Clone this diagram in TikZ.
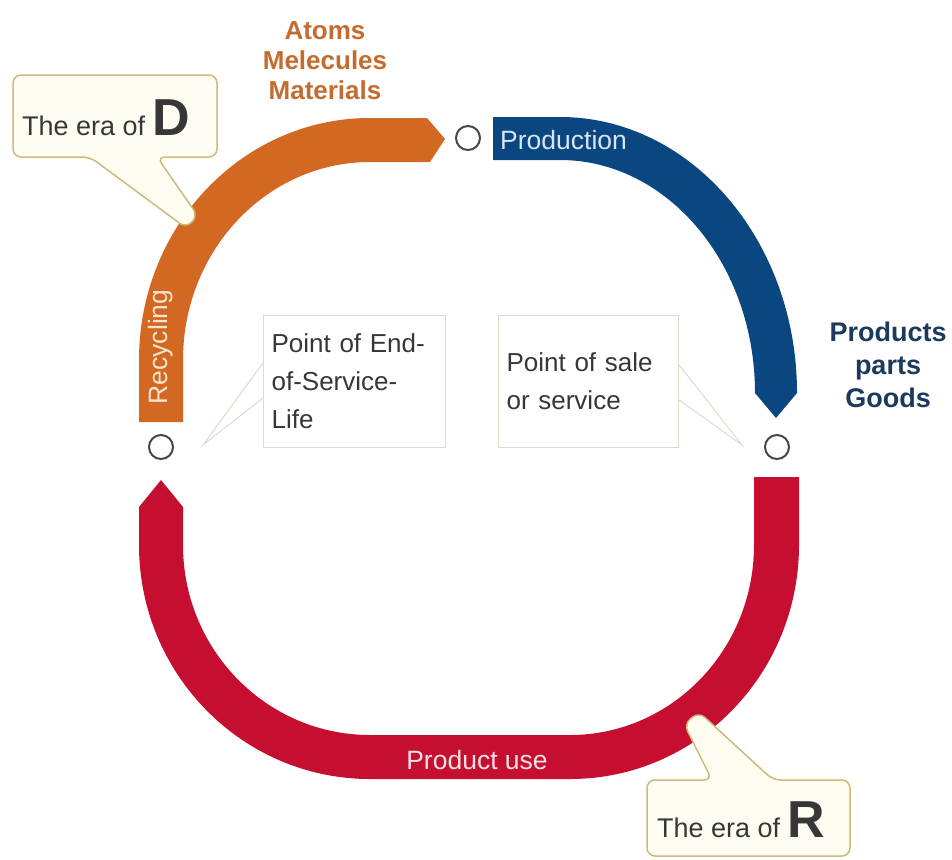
\documentclass[tikz,border=0pt]{standalone}
\usepackage{fontspec}
\setmainfont{Liberation Sans}
\usepackage{tikz}

\definecolor{bandorange}{RGB}{211,104,34}
\definecolor{bandblue}{RGB}{10,70,128}
\definecolor{bandred}{RGB}{198,14,48}
\definecolor{textorange}{RGB}{196,108,48}
\definecolor{textblue}{RGB}{28,58,92}
\definecolor{calloutline}{RGB}{204,186,122}
\definecolor{calloutfill}{RGB}{255,253,242}
\definecolor{boxline}{RGB}{222,218,204}
\definecolor{inktext}{RGB}{55,55,55}

\tikzset{
    hole/.style={circle, draw=black!72, line width=2pt, fill=white, minimum size=24pt, inner sep=0pt},
    infobox/.style={draw=boxline, line width=1.2pt, fill=white, minimum height=132pt, inner xsep=8pt,
        align=left, text=inktext, font=\fontsize{26}{38}\selectfont},
    pointer/.style={draw=boxline, line width=1pt},
    callout/.style={draw=calloutline, fill=calloutfill, line width=1.5pt, rounded corners=8pt},
    eratext/.style={inner sep=0pt, text=inktext, font=\fontsize{27}{27}\selectfont},
    bandlabel/.style={inner sep=0pt, font=\fontsize{26.5}{27}\selectfont},
    grouplabel/.style={align=center, inner sep=0pt}
}

% "The era of" with the big letter
\newcommand{\eraof}[1]{The era of {\fontsize{52}{52}\selectfont\bfseries #1}}

\begin{document}
\begin{tikzpicture}[x=1pt, y=-1pt]
        \useasboundingbox (0,0) rectangle (952,859);

        % Recycling band (orange), arrow pointing right
        \fill[bandorange] (139,422) -- (139,360)
            arc[start angle=180, end angle=270, x radius=231, y radius=242]
            -- (427,118) -- (445,139) -- (430,162) -- (370,162)
            arc[start angle=270, end angle=180, x radius=187, y radius=198]
            -- (183,422) -- cycle;

        % Production band (blue), arrow pointing down
        \fill[bandblue] (493,117) -- (560,117)
            arc[start angle=270, end angle=360, x radius=237, y radius=276]
            -- (776,418) -- (755,393)
            arc[start angle=0, end angle=-90, x radius=195, y radius=233]
            -- (493,160) -- cycle;

        % Product use band (red), arrow pointing up
        \fill[bandred] (799,477) -- (799,545)
            arc[start angle=0, end angle=90, x radius=229, y radius=234]
            -- (370,779)
            arc[start angle=90, end angle=180, x radius=231, y radius=234]
            -- (139,507) -- (161,480) -- (183,507) -- (183,545)
            arc[start angle=180, end angle=90, x radius=187, y radius=190]
            -- (570,735)
            arc[start angle=90, end angle=0, x radius=184, y radius=190]
            -- (754,477) -- cycle;

        % Band labels
        \node[bandlabel, anchor=west, text={rgb,255:red,215;green,230;blue,245}] (prodlbl) at (500,140) {Production};
        \node[bandlabel, rotate=90, text={rgb,255:red,250;green,228;blue,205}] (recylbl) at (161,347) {Recycling};
        \node[bandlabel, text={rgb,255:red,250;green,225;blue,228}] (uselbl) at (477,760) {Product use};

        % Transition points
        \node[hole] (pStart) at (468,138) {};
        \node[hole] (pSale) at (777,447) {};
        \node[hole] (pEnd) at (161,447) {};

        % What flows in and out
        \node[grouplabel, text=textorange, font=\bfseries\fontsize{26}{30}\selectfont] (matter) at (325,61) {Atoms\\Melecules\\Materials};
        \node[grouplabel, text=textblue, font=\bfseries\fontsize{27}{33}\selectfont] (goods) at (888,365) {Products\\parts\\Goods};

        % Point boxes with their thin pointers
        \coordinate (eolTip) at (203,445);
        \coordinate (saleTip) at (742,445);
        \node[infobox, anchor=north west, text width=166pt] (eol) at (263,315) {Point of End-\\of-Service-\\Life};
        \node[infobox, anchor=north west, text width=164pt] (sale) at (498,315) {Point of sale\\or service};
        \draw[pointer] ([yshift=-48pt]eol.north west) -- (eolTip) -- ([yshift=-83pt]eol.north west);
        \draw[pointer] ([yshift=-50pt]sale.north east) -- (saleTip) -- ([yshift=-85pt]sale.north east);

        % The era of D
        \draw[callout] (13,75) -- (217,75) -- (217,157) -- (157,157) -- (198,216)
            -- (186,228) -- (90,157) -- (13,157) -- cycle;
        \node[eratext, anchor=base west] (eraD) at (22,135) {\eraof{D}};

        % The era of R
        \draw[callout] (647,780) -- (712,780) -- (684,724) -- (699,712) -- (773,780)
            -- (850,780) -- (850,856) -- (647,856) -- cycle;
        \node[eratext, anchor=base west] (eraR) at (657,837) {\eraof{R}};

    \end{tikzpicture}
\end{document}
